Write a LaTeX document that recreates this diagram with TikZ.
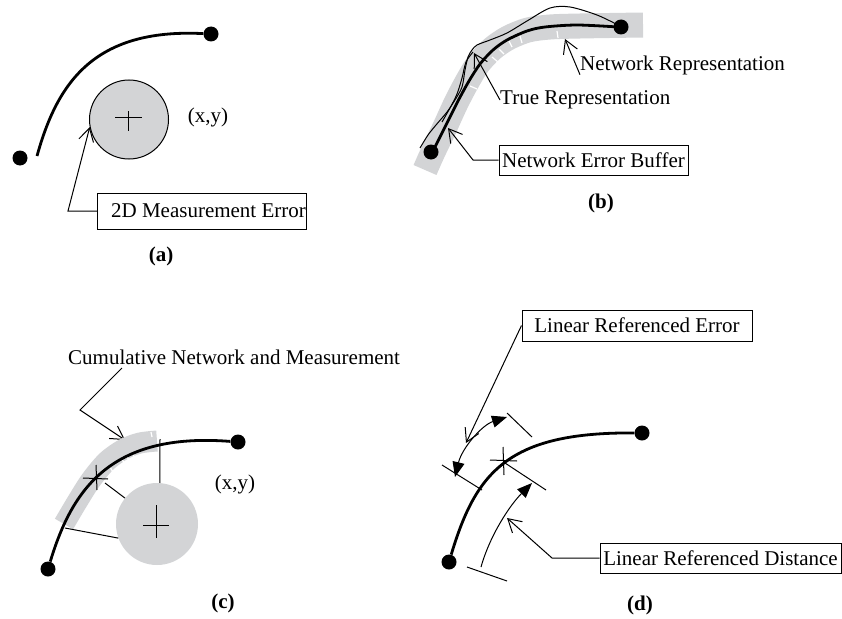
\documentclass[tikz,border=0pt]{standalone}
\usepackage{fontspec}
\setmainfont{Liberation Serif}
\usetikzlibrary{arrows.meta}
\definecolor{bandgray}{RGB}{211,212,214}
\begin{document}
\begin{tikzpicture}[x=1pt,y=-1pt,
  every node/.style={font=\fontsize{21}{25}\selectfont},
  thickcurve/.style={line width=2.8pt},
  thinline/.style={line width=1pt},
  dotnode/.style={circle,fill=black,inner sep=0pt,minimum size=15pt},
  lbl/.style={inner sep=0pt,anchor=west},
  lbox/.style={draw,line width=1pt,inner sep=0pt},
  barb/.style={-{Straight Barb[length=13pt,width=15pt]}},
  band/.style={draw=bandgray},
  whitetick/.style={draw=white,line width=1.2pt},
  sublabel/.style={font=\fontsize{21}{25}\selectfont\bfseries},
  tri/.style={{Triangle[length=15pt,width=12pt]}-{Triangle[length=15pt,width=12pt]}},
  trihead/.style={-{Triangle[length=15pt,width=12pt]}}
]
\useasboundingbox (0,0) rectangle (842,618);

% ---------------- (a) ----------------
\node[dotnode] (a1) at (20,158) {};
\node[dotnode] (a2) at (211,34) {};
\coordinate (a0) at (37,156);
\draw[thickcurve] (a0) .. controls (57,84) and (93,28) .. (a2);
\node[circle,draw,fill=bandgray,line width=1pt,minimum size=79pt,inner sep=0pt] (circa) at (129,119.5) {};
\draw[thinline] (115,117) -- (142,117) (128,111) -- (128,131);
\node (xya) at (208,117) {(x,y)};
\node[lbox,minimum width=209pt,minimum height=36pt,anchor=west] (boxa) at (97,211) {\hspace*{13pt}2D Measurement Error};
\coordinate (ka) at (68,211);
\draw[thinline,barb] (boxa.west) -- (ka) -- (circa.191);
\node[sublabel] (la) at (161,256) {(a)};

% ---------------- (b) ----------------
\draw[band,line width=25pt] plot[smooth] coordinates {(425,170) (433,152) (445,127) (456,103) (467,82) (478,64) (492,49) (508,38) (528,30) (550,27) (580,26) (643,25)};
\draw[whitetick] (557,31) -- (558,38);
\draw[whitetick] (520,36) -- (522,43);
\draw[whitetick] (509,41) -- (512,47);
\draw[whitetick] (499,49) -- (504,54);
\draw[whitetick] (492,57) -- (498,62);
\draw[whitetick] (470,86) -- (477,89);
\draw[thinline] plot[smooth] coordinates {(618,25) (597,15) (570,7) (550,8) (527,21) (507,33) (490,40) (477,45) (472,50) (468,57) (465,70) (462,87) (455,100) (447,112) (436,125) (428,135) (420,148)};
\draw[thinline] plot[smooth] coordinates {(473,52) (466,62) (462,78) (457,94) (450,108) (442,122)};
\node[dotnode] (b1) at (431,152) {};
\node[dotnode] (b2) at (621,27) {};
\draw[thickcurve] plot[smooth] coordinates {(433,151) (446,125) (458,101) (469,81) (480,64) (493,50) (507,40) (527,31) (545,27) (577,25) (618,27)};
\node[lbl] (netrep) at (580,65) {Network Representation};
\node[lbl] (truerep) at (500,100) {True Representation};
\node[lbox,minimum width=189pt,minimum height=30pt] (boxb) at (593.5,160) {Network Error Buffer};
\coordinate (nrtip) at (565,39);
\draw[thinline,barb] (netrep.south west) -- (nrtip);
\coordinate (trtip) at (474,53);
\draw[thinline,barb] (truerep.west) -- (trtip);
\coordinate (kb) at (473,160);
\coordinate (nebtip) at (448,128);
\draw[thinline,barb] (boxb.west) -- (kb) -- (nebtip);
\node[sublabel] (lb) at (601,203) {(b)};

% ---------------- (c) ----------------
\node[lbl] (cum) at (68,357) {Cumulative Network and Measurement};
\coordinate (c1) at (122,368);
\coordinate (c2) at (80,410);
\coordinate (c3) at (125,440);
\draw[thinline,barb] (c1) -- (c2) -- (c3);
\draw[band,line width=21pt] plot[smooth] coordinates {(64,524) (77,502) (91,480) (107,461) (124,449) (140,443) (157,441)};
\draw[whitetick] (110,467) -- (113,472);
\draw[whitetick] (122,459) -- (124,463);
\draw[whitetick] (127,456) -- (129,461);
\draw[whitetick] (133,452) -- (134,457);
\draw[whitetick] (151,432) -- (152,437);
\node[circle,fill=bandgray,minimum size=82pt,inner sep=0pt] (circc) at (157,524) {};
\draw[thinline] (143,525) -- (169,525) (156.5,505) -- (156.5,538);
\node[dotnode] (cd1) at (48,569) {};
\node[dotnode] (cd2) at (238,442) {};
\draw[thickcurve] (cd1) .. controls (72,490) and (110,432) .. (cd2);
\coordinate (cv) at (160,439);
\coordinate (cl1) at (105,483);
\coordinate (cl2) at (65,528);
\draw[thinline] (circc.86) -- (cv);
\draw[thinline] (circc.141) -- (cl1);
\draw[thinline] (circc.200) -- (cl2);
\draw[thinline] (83,478) -- (108,479) (96,465) -- (97,490);
\node (xyc) at (235,484) {(x,y)};
\node[sublabel] (lc) at (223,603) {(c)};

% ---------------- (d) ----------------
\node[lbox,minimum width=230pt,minimum height=31pt] (boxd1) at (637,325.5) {Linear Referenced Error};
\node[lbox,minimum width=241pt,minimum height=30pt] (boxd2) at (720.5,558) {Linear Referenced Distance};
\node[dotnode] (d1) at (449,562) {};
\node[dotnode] (d2) at (642,433) {};
\draw[thickcurve] (d1) .. controls (476,472) and (508,432) .. (d2);
\draw[thinline] (490,460) -- (517,461) (503,447) -- (504,475);
\draw[thinline] (507,413) -- (532,437);
\draw[thinline] (442,465) -- (482,490);
\draw[thinline] (505,463) -- (546,490);
\draw[thinline] (467,567) -- (507,581);
\coordinate (ea1) at (455,477);
\coordinate (ea2) at (507,417);
\draw[thinline,tri] (ea1) .. controls (462,448) and (482,425) .. (ea2);
\coordinate (da1) at (481,567);
\coordinate (da2) at (532,483);
\draw[thinline,trihead] (da1) .. controls (490,535) and (510,505) .. (da2);
\coordinate (et) at (466,443);
\draw[thinline,barb] (boxd1.west) -- (et);
\coordinate (kd) at (552,558);
\coordinate (dt) at (507,518);
\draw[thinline,barb] (boxd2.west) -- (kd) -- (dt);
\node[sublabel] (ld) at (640,605) {(d)};
\end{tikzpicture}
\end{document}
